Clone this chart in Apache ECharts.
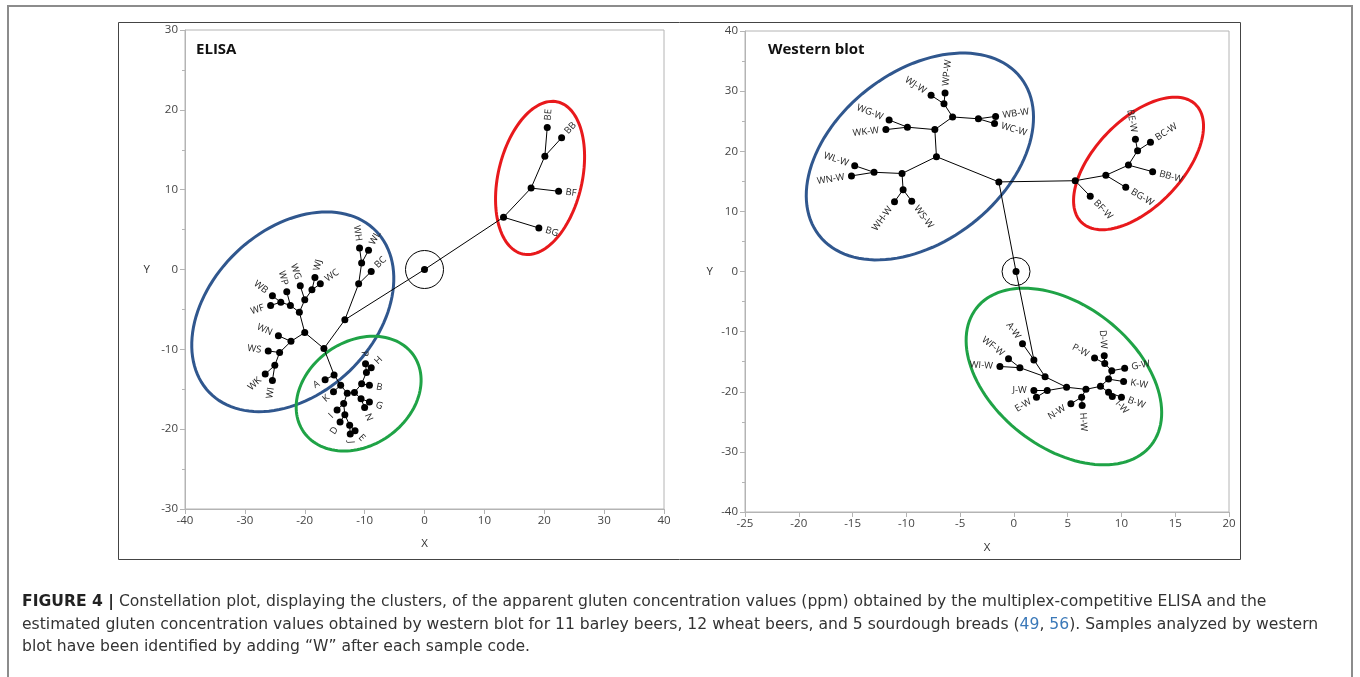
<!DOCTYPE html>
<html>
<head>
<meta charset="utf-8">
<script src="https://cdn.jsdelivr.net/npm/echarts@6/dist/echarts.min.js"></script>
<style>
html, body { margin: 0; padding: 0; background: #fff; }
#chart { width: 1360px; height: 677px; }
</style>
</head>
<body>
<div id="chart"></div>
<script>
// constellation tree nodes: [id, x, y]; lower case ids are joins, upper case are samples
const elisaPoints = [
  ['c', 0, 0],
  ['r1', 13.2, 6.55], ['r2', 17.8, 10.2], ['r3', 20.1, 14.2],
  ['BE', 20.5, 17.8], ['BB', 22.9, 16.5], ['BF', 22.4, 9.8], ['BG', 19.1, 5.2],
  ['w0', -13.3, -6.3], ['w1', -11.0, -1.8], ['w2', -10.5, 0.8],
  ['BC', -8.9, -0.25], ['WH', -10.85, 2.7], ['WL', -9.35, 2.4],
  ['w3', -16.8, -9.9], ['w4', -20.0, -7.9], ['w5', -20.9, -5.35], ['w6', -22.4, -4.5], ['w7', -24.0, -4.1],
  ['WB', -25.4, -3.3], ['WF', -25.7, -4.5], ['WP', -23.0, -2.8],
  ['w8', -20.0, -3.8], ['WG', -20.75, -2.05], ['w9', -18.8, -2.55], ['WJ', -18.3, -1.0], ['WC', -17.4, -1.8],
  ['w10', -22.3, -9.0], ['WN', -24.4, -8.3], ['w11', -24.2, -10.4], ['WS', -26.1, -10.2],
  ['w12', -25.0, -12.0], ['WK', -26.6, -13.1], ['WI', -25.4, -13.9],
  ['g1', -15.1, -13.2], ['A', -16.6, -13.8], ['g2', -14.0, -14.5], ['K', -15.2, -15.3],
  ['g3', -12.9, -15.5], ['g4', -11.7, -15.4], ['g5', -10.5, -14.3], ['g6', -9.7, -12.9],
  ['P', -9.85, -11.8], ['H', -8.9, -12.3], ['B', -9.2, -14.5],
  ['g7', -10.6, -16.2], ['G', -9.2, -16.6], ['N', -10.0, -17.3],
  ['g8', -13.5, -16.8], ['I', -14.6, -17.6], ['g9', -13.3, -18.2], ['D', -14.1, -19.1],
  ['g10', -12.5, -19.5], ['E', -11.6, -20.2], ['J', -12.4, -20.6]
];
const elisaLinks = [
  ['c', 'r1'], ['r1', 'BG'], ['r1', 'r2'], ['r2', 'BF'], ['r2', 'r3'], ['r3', 'BE'], ['r3', 'BB'],
  ['c', 'w0'], ['w0', 'w1'], ['w1', 'BC'], ['w1', 'w2'], ['w2', 'WH'], ['w2', 'WL'],
  ['w0', 'w3'], ['w3', 'w4'], ['w4', 'w5'], ['w5', 'w6'], ['w6', 'w7'], ['w7', 'WB'], ['w7', 'WF'],
  ['w6', 'WP'], ['w5', 'w8'], ['w8', 'WG'], ['w8', 'w9'], ['w9', 'WJ'], ['w9', 'WC'],
  ['w4', 'w10'], ['w10', 'WN'], ['w10', 'w11'], ['w11', 'WS'], ['w11', 'w12'], ['w12', 'WK'], ['w12', 'WI'],
  ['w3', 'g1'], ['g1', 'A'], ['g1', 'g2'], ['g2', 'K'], ['g2', 'g3'], ['g3', 'g4'], ['g4', 'g5'],
  ['g5', 'g6'], ['g6', 'P'], ['g6', 'H'], ['g5', 'B'], ['g4', 'g7'], ['g7', 'G'], ['g7', 'N'],
  ['g3', 'g8'], ['g8', 'I'], ['g8', 'g9'], ['g9', 'D'], ['g9', 'g10'], ['g10', 'E'], ['g10', 'J']
];

const westernPoints = [
  ['c', 0.2, 0], ['h', -1.4, 14.9],
  ['b1', -7.2, 19.1], ['b2', -7.35, 23.6], ['b3', -9.9, 24.0],
  ['WG-W', -11.6, 25.2], ['WK-W', -11.9, 23.6],
  ['b4', -5.7, 25.7], ['b5', -6.5, 27.9], ['WJ-W', -7.7, 29.3], ['WP-W', -6.4, 29.7],
  ['b6', -3.3, 25.4], ['WB-W', -1.7, 25.8], ['WC-W', -1.8, 24.6],
  ['b7', -10.4, 16.3], ['b8', -13.0, 16.5], ['WL-W', -14.8, 17.6], ['WN-W', -15.1, 15.9],
  ['b9', -10.3, 13.6], ['WH-W', -11.1, 11.6], ['WS-W', -9.5, 11.7],
  ['r1', 5.7, 15.1], ['BF-W', 7.1, 12.5], ['r2', 8.55, 16.0], ['BG-W', 10.4, 14.0],
  ['r3', 10.65, 17.7], ['BB-W', 12.9, 16.6], ['r4', 11.5, 20.1], ['BE-W', 11.3, 22.0], ['BC-W', 12.7, 21.5],
  ['g1', 1.86, -14.7], ['A-W', 0.8, -12.0], ['g2', 2.9, -17.5],
  ['g3', 0.56, -16.0], ['WF-W', -0.5, -14.5], ['WI-W', -1.3, -15.8],
  ['g4', 4.9, -19.25], ['g5', 3.1, -19.8], ['J-W', 1.86, -19.8], ['E-W', 2.1, -20.9],
  ['g6', 6.7, -19.6], ['g7', 6.3, -20.9], ['N-W', 5.3, -22.0], ['H-W', 6.35, -22.3],
  ['g8', 8.05, -19.1], ['g9', 8.8, -17.9], ['K-W', 10.2, -18.3],
  ['g10', 9.1, -16.5], ['G-W', 10.3, -16.1], ['g11', 8.45, -15.3], ['P-W', 7.5, -14.4], ['D-W', 8.4, -14.0],
  ['g12', 8.8, -20.1], ['B-W', 10.0, -20.9], ['I-W', 9.15, -20.8]
];
const westernLinks = [
  ['c', 'h'], ['c', 'g1'], ['h', 'b1'], ['h', 'r1'],
  ['b1', 'b2'], ['b1', 'b7'], ['b2', 'b3'], ['b3', 'WG-W'], ['b3', 'WK-W'],
  ['b2', 'b4'], ['b4', 'b5'], ['b5', 'WJ-W'], ['b5', 'WP-W'], ['b4', 'b6'], ['b6', 'WB-W'], ['b6', 'WC-W'],
  ['b7', 'b8'], ['b8', 'WL-W'], ['b8', 'WN-W'], ['b7', 'b9'], ['b9', 'WH-W'], ['b9', 'WS-W'],
  ['r1', 'BF-W'], ['r1', 'r2'], ['r2', 'BG-W'], ['r2', 'r3'], ['r3', 'BB-W'], ['r3', 'r4'], ['r4', 'BE-W'], ['r4', 'BC-W'],
  ['g1', 'A-W'], ['g1', 'g2'], ['g2', 'g3'], ['g3', 'WF-W'], ['g3', 'WI-W'],
  ['g2', 'g4'], ['g4', 'g5'], ['g5', 'J-W'], ['g5', 'E-W'], ['g4', 'g6'], ['g6', 'g7'], ['g7', 'N-W'], ['g7', 'H-W'],
  ['g6', 'g8'], ['g8', 'g9'], ['g9', 'K-W'], ['g9', 'g10'], ['g10', 'G-W'], ['g10', 'g11'], ['g11', 'P-W'], ['g11', 'D-W'],
  ['g8', 'g12'], ['g12', 'B-W'], ['g12', 'I-W']
];

// axis ranges [min, max, interval]
const elisaX = [-40, 40, 10];
const elisaY = [-30, 30, 10];
const westernX = [-25, 20, 5];
const westernY = [-40, 40, 10];

// cluster rings: panel, centre (data), semi axes (px), tilt (deg)
const rings = [
  { panel: 0, center: [-22.0, -5.3], a: 116, b: 82, tilt: 44, color: '#30578e' },
  { panel: 0, center: [19.3, 11.47], a: 78, b: 42, tilt: 77, color: '#e8191c' },
  { panel: 0, center: [-11.0, -15.55], a: 67, b: 52, tilt: 35, color: '#1fa346' },
  { panel: 1, center: [-8.74, 19.13], a: 128, b: 85, tilt: 38, color: '#30578e' },
  { panel: 1, center: [11.59, 17.97], a: 82, b: 43.5, tilt: 46, color: '#e8191c' },
  { panel: 1, center: [4.65, -17.47], a: 111, b: 71, tilt: -38, color: '#1fa346' }
];
const hubCircles = [
  { panel: 0, center: [0, 0], r: 19 },
  { panel: 1, center: [0.2, 0], r: 14 }
];

const FONT = '"Open Sans", "Noto Sans", sans-serif';
const CAPFONT = '"DejaVu Sans", sans-serif';

function lookup(points) {
  const m = {};
  points.forEach(p => { m[p[0]] = [p[1], p[2]]; });
  return m;
}
function isSample(id) { return /^[A-Z]/.test(id); }

function leafItems(points, links) {
  const pos = lookup(points);
  const out = [];
  links.forEach(([a, b]) => {
    if (isSample(b)) out.push({ name: b, value: [pos[b][0], pos[b][1], pos[a][0], pos[a][1]] });
    else if (isSample(a)) out.push({ name: a, value: [pos[a][0], pos[a][1], pos[b][0], pos[b][1]] });
  });
  return out;
}

function panelSeries(idx, points, links) {
  const pos = lookup(points);
  const leaves = leafItems(points, links);
  return [
    {
      type: 'lines', coordinateSystem: 'cartesian2d', xAxisIndex: idx, yAxisIndex: idx,
      silent: true, z: 3,
      lineStyle: { color: '#000', width: 1, opacity: 1 },
      data: links.map(([a, b]) => ({ coords: [pos[a], pos[b]] }))
    },
    {
      type: 'scatter', xAxisIndex: idx, yAxisIndex: idx, z: 4,
      symbol: 'circle', symbolSize: 7,
      itemStyle: { color: '#000', opacity: 1 },
      data: points.map(p => [p[1], p[2]])
    },
    {
      type: 'custom', xAxisIndex: idx, yAxisIndex: idx, z: 5, clip: false, silent: true,
      data: leaves,
      renderItem: function (params, api) {
        const p = api.coord([api.value(0), api.value(1)]);
        const q = api.coord([api.value(2), api.value(3)]);
        let dx = p[0] - q[0], dy = p[1] - q[1];
        const len = Math.hypot(dx, dy) || 1;
        dx /= len; dy /= len;
        let rot = Math.atan2(-dy, dx);
        let align = 'left';
        if (dx < -1e-6) { rot += Math.PI; align = 'right'; }
        return {
          type: 'text', x: p[0] + dx * 7, y: p[1] + dy * 7, rotation: rot,
          style: {
            text: leaves[params.dataIndex].name, align: align, verticalAlign: 'middle',
            fill: '#222', fontSize: 9.5, fontFamily: FONT
          }
        };
      }
    }
  ];
}

function ringSeries(idx) {
  const list = rings.filter(r => r.panel === idx);
  const hubs = hubCircles.filter(h => h.panel === idx);
  return [
    {
      type: 'custom', xAxisIndex: idx, yAxisIndex: idx, z: 2, clip: false, silent: true,
      data: list.map(r => r.center),
      renderItem: function (params, api) {
        const r = list[params.dataIndex];
        const c = api.coord([api.value(0), api.value(1)]);
        const t = r.tilt * Math.PI / 180;
        const pts = [];
        for (let i = 0; i < 120; i++) {
          const s = i / 120 * Math.PI * 2;
          const u = r.a * Math.cos(s), v = r.b * Math.sin(s);
          pts.push([c[0] + u * Math.cos(t) - v * Math.sin(t), c[1] - (u * Math.sin(t) + v * Math.cos(t))]);
        }
        return { type: 'polygon', shape: { points: pts }, style: { fill: 'none', stroke: r.color, lineWidth: 3 } };
      }
    },
    {
      type: 'custom', xAxisIndex: idx, yAxisIndex: idx, z: 2, clip: false, silent: true,
      data: hubs.map(h => h.center),
      renderItem: function (params, api) {
        const c = api.coord([api.value(0), api.value(1)]);
        return { type: 'circle', shape: { cx: c[0], cy: c[1], r: hubs[params.dataIndex].r },
          style: { fill: 'none', stroke: '#000', lineWidth: 1 } };
      }
    }
  ];
}

function xAxisOf(idx, range, gap) {
  return {
    gridIndex: idx, type: 'value', min: range[0], max: range[1], interval: range[2],
    name: 'X', nameLocation: 'middle', nameGap: gap,
    nameTextStyle: { color: '#333', fontSize: 11.5, fontFamily: FONT },
    axisLine: { onZero: false, lineStyle: { color: '#b4b4b4', width: 1 } },
    axisTick: { show: true, length: 5, lineStyle: { color: '#b4b4b4' } },
    axisLabel: { color: '#444', fontSize: 11.5, fontFamily: FONT, margin: 6 },
    splitLine: { show: false }
  };
}
function yAxisOf(idx, range, gap) {
  return {
    gridIndex: idx, type: 'value', min: range[0], max: range[1], interval: range[2],
    name: 'Y', nameLocation: 'middle', nameGap: gap, nameRotate: 0,
    nameTextStyle: { color: '#333', fontSize: 11.5, fontFamily: FONT },
    axisLine: { show: true, onZero: false, lineStyle: { color: '#b4b4b4', width: 1 } },
    axisTick: { show: true, length: 5, lineStyle: { color: '#b4b4b4' } },
    minorTick: { show: true, splitNumber: 2, length: 3, lineStyle: { color: '#b4b4b4' } },
    axisLabel: { color: '#444', fontSize: 11.5, fontFamily: FONT, margin: 7 },
    splitLine: { show: false }
  };
}

const caption =
  '{b|FIGURE 4 |} Constellation plot, displaying the clusters, of the apparent gluten concentration values (ppm) obtained by the multiplex-competitive ELISA and the\n' +
  'estimated gluten concentration values obtained by western blot for 11 barley beers, 12 wheat beers, and 5 sourdough breads ({l|49}, {l|56}). Samples analyzed by western\n' +
  'blot have been identified by adding \u201cW\u201d after each sample code.';

const chart = echarts.init(document.getElementById('chart'));
chart.setOption({
  backgroundColor: '#fff',
  animation: false,
  grid: [
    { left: 185, top: 30, width: 479, height: 479, show: true, borderColor: '#b4b4b4', borderWidth: 1, backgroundColor: 'transparent', outerBoundsMode: 'none' },
    { left: 745, top: 31, width: 484, height: 481, show: true, borderColor: '#b4b4b4', borderWidth: 1, backgroundColor: 'transparent', outerBoundsMode: 'none' }
  ],
  xAxis: [xAxisOf(0, elisaX, 29), xAxisOf(1, westernX, 30)],
  yAxis: [yAxisOf(0, elisaY, 35), yAxisOf(1, westernY, 32)],
  graphic: [
    { type: 'rect', shape: { x: 8, y: 6, width: 1344, height: 700 }, style: { fill: 'none', stroke: '#8c8c8c', lineWidth: 2 }, silent: true },
    { type: 'rect', shape: { x: 118.5, y: 22.5, width: 1122, height: 537 }, style: { fill: 'none', stroke: '#444', lineWidth: 1 }, silent: true },
    { type: 'text', x: 196, y: 50, style: { text: 'ELISA', font: 'bold 15px ' + FONT, fill: '#111', verticalAlign: 'middle' } },
    { type: 'text', x: 768, y: 50, style: { text: 'Western blot', font: 'bold 15px ' + FONT, fill: '#111', verticalAlign: 'middle' } },
    {
      type: 'text', x: 22, y: 591,
      style: {
        text: caption, fill: '#333', fontSize: 15.6, fontFamily: CAPFONT, lineHeight: 22.5,
        rich: {
          b: { fontWeight: 'bold', fontSize: 15.6, fill: '#222', lineHeight: 22.5, fontFamily: CAPFONT },
          l: { fill: '#3a78b8', fontSize: 15.6, lineHeight: 22.5, fontFamily: CAPFONT }
        }
      }
    }
  ],
  series: [].concat(
    ringSeries(0), panelSeries(0, elisaPoints, elisaLinks),
    ringSeries(1), panelSeries(1, westernPoints, westernLinks)
  )
});
</script>
</body>
</html>
